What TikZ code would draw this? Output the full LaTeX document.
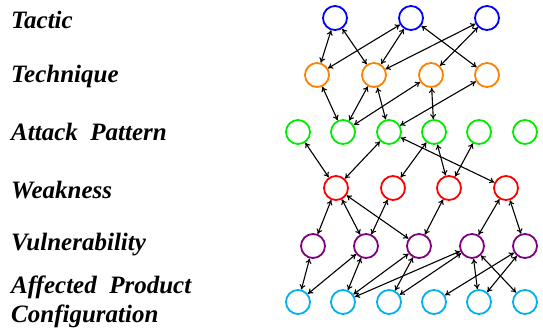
\documentclass[tikz,border=0pt]{standalone}
\usepackage{fontspec}
\setmainfont{Liberation Serif}
\usetikzlibrary{arrows.meta}

\definecolor{tacblue}{RGB}{0,0,255}
\definecolor{techorange}{RGB}{255,128,0}
\definecolor{patgreen}{RGB}{0,235,0}
\definecolor{weakred}{RGB}{255,0,0}
\definecolor{vulpurple}{RGB}{128,0,128}
\definecolor{prodcyan}{RGB}{0,176,240}

\begin{document}
\begin{tikzpicture}
        [x=1pt, y=-1pt,
        item/.style={circle, draw, line width=1.8pt, minimum size=24pt, inner sep=0pt},
        tactic/.style={item, tacblue},
        technique/.style={item, techorange},
        pattern/.style={item, patgreen},
        weakness/.style={item, weakred},
        vuln/.style={item, vulpurple},
        product/.style={item, prodcyan},
        edge/.style={black, line width=1.1pt, {To[length=5pt,width=6pt]}-{To[length=5pt,width=6pt]}},
        layer/.style={anchor=base west, inner sep=0pt, align=left,
          font=\fontsize{25}{29}\selectfont\bfseries\itshape}]

        \useasboundingbox (0,0) rectangle (543,333);

        % layer labels
        \node[layer] (ltac) at (11,28) {Tactic};
        \node[layer] (ltech) at (11,82) {Technique};
        \node[layer] (lpat) at (11,140) {Attack\hspace{0.5em}Pattern};
        \node[layer] (lweak) at (11,198) {Weakness};
        \node[layer] (lvul) at (11,250) {Vulnerability};
        \node[layer] (lprod) at (11,322) {Affected\hspace{0.5em}Product\\Configuration};

        % tactics
        \node[tactic] (t1) at (335,18) {};
        \node[tactic] (t2) at (411,18) {};
        \node[tactic] (t3) at (487,18) {};
        % techniques
        \node[technique] (q1) at (317,75) {};
        \node[technique] (q2) at (374,75) {};
        \node[technique] (q3) at (431,75) {};
        \node[technique] (q4) at (487,75) {};
        % attack patterns
        \node[pattern] (a1) at (298,132) {};
        \node[pattern] (a2) at (343,132) {};
        \node[pattern] (a3) at (389,132) {};
        \node[pattern] (a4) at (434,132) {};
        \node[pattern] (a5) at (479,132) {};
        \node[pattern] (a6) at (525,132) {};
        % weaknesses
        \node[weakness] (w1) at (336,188) {};
        \node[weakness] (w2) at (393,188) {};
        \node[weakness] (w3) at (449,188) {};
        \node[weakness] (w4) at (506,188) {};
        % vulnerabilities
        \node[vuln] (v1) at (313,246) {};
        \node[vuln] (v2) at (366,246) {};
        \node[vuln] (v3) at (419,246) {};
        \node[vuln] (v4) at (472,246) {};
        \node[vuln] (v5) at (525,246) {};
        % affected product configurations
        \node[product] (p1) at (298,302) {};
        \node[product] (p2) at (343,302) {};
        \node[product] (p3) at (389,302) {};
        \node[product] (p4) at (434,302) {};
        \node[product] (p5) at (479,302) {};
        \node[product] (p6) at (525,302) {};

        % tactic -- technique
        \draw[edge] (t1) -- (q1);
        \draw[edge] (t1) -- (q2);
        \draw[edge] (t2) -- (q1);
        \draw[edge] (t2) -- (q2);
        \draw[edge] (t2) -- (q4);
        \draw[edge] (t3) -- (q2);
        \draw[edge] (t3) -- (q3);
        % technique -- attack pattern
        \draw[edge] (q1) -- (a2);
        \draw[edge] (q2) -- (a2);
        \draw[edge] (q2) -- (a3);
        \draw[edge] (q3) -- (a2);
        \draw[edge] (q3) -- (a4);
        \draw[edge] (q4) -- (a3);
        % attack pattern -- weakness
        \draw[edge] (a1) -- (w1);
        \draw[edge] (a3) -- (w1);
        \draw[edge] (a4) -- (w2);
        \draw[edge] (a4) -- (w3);
        \draw[edge] (a5) -- (w3);
        \draw[edge] (a3) -- (w4);
        % weakness -- vulnerability
        \draw[edge] (w1) -- (v1);
        \draw[edge] (w1) -- (v2);
        \draw[edge] (w1) -- (v3);
        \draw[edge] (w2) -- (v2);
        \draw[edge] (w3) -- (v3);
        \draw[edge] (w4) -- (v4);
        \draw[edge] (w4) -- (v5);
        % vulnerability -- product
        \draw[edge] (v1) -- (p1);
        \draw[edge] (v2) -- (p1);
        \draw[edge] (v2) -- (p2);
        \draw[edge] (v3) -- (p2);
        \draw[edge] (v4) -- (p2);
        \draw[edge] (v3) -- (p3);
        \draw[edge] (v4) -- (p3);
        \draw[edge] (v5) -- (p4);
        \draw[edge] (v4) -- (p5);
        \draw[edge] (v5) -- (p5);
        \draw[edge] (v4) -- (p6);

        \end{tikzpicture}
\end{document}
